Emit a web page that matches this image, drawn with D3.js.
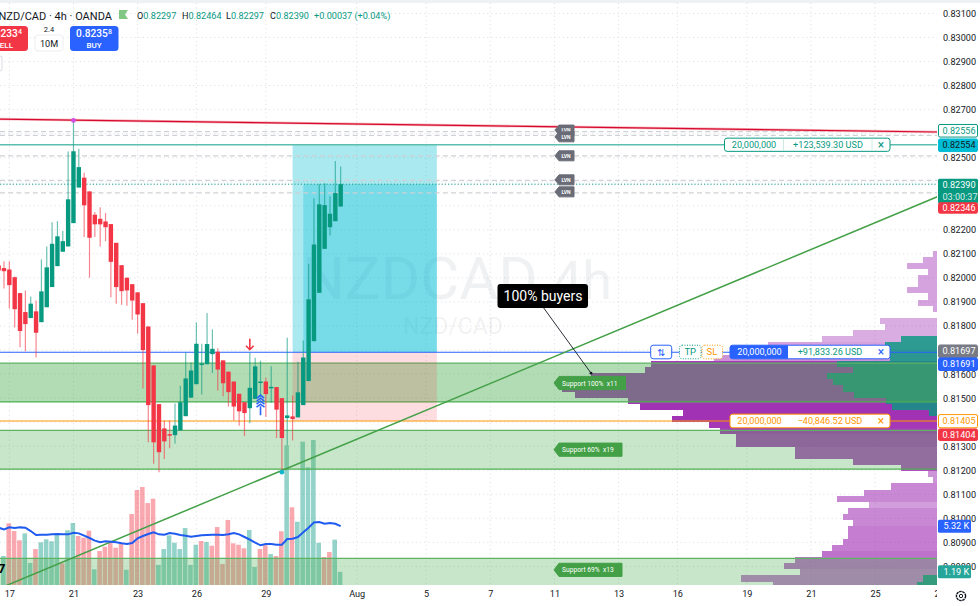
<!DOCTYPE html>
<html>
<head>
<meta charset="utf-8">
<title>NZD/CAD 4h</title>
<script src="https://d3js.org/d3.v7.min.js"></script>
<style>
  html, body { margin: 0; padding: 0; background: #fff; }
  svg { display: block; font-family: Roboto, "Liberation Sans", sans-serif; }
</style>
</head>
<body>
<svg id="chart" width="980" height="606"></svg>
<script>
// OHLC of each 4h bar, oldest first
const candleOpen = [0.82052,0.82041,0.82035,0.82003,0.81937,0.81858,0.81833,0.81861,0.81816,0.81878,0.81962,0.82049,0.82109,0.82131,0.82228,0.82376,0.82417,0.82360,0.82263,0.82246,0.82235,0.82224,0.82146,0.82053,0.82001,0.81974,0.81940,0.81895,0.81798,0.81636,0.81475,0.81374,0.81350,0.81346,0.81366,0.81425,0.81502,0.81558,0.81641,0.81641,0.81683,0.81693,0.81657,0.81610,0.81569,0.81518,0.81483,0.81458,0.81497,0.81566,0.81569,0.81542,0.81546,0.81500,0.81417,0.81424,0.81420,0.81471,0.81571,0.81737,0.81938,0.82121,0.82211,0.82236,0.82297];
const candleHigh = [0.82081,0.82069,0.82069,0.82006,0.81937,0.81948,0.81923,0.81906,0.82077,0.82131,0.82232,0.82236,0.82195,0.82526,0.82655,0.82537,0.82438,0.82360,0.82274,0.82294,0.82270,0.82224,0.82146,0.82053,0.82001,0.81974,0.81940,0.81895,0.81798,0.81636,0.81475,0.81407,0.81407,0.81478,0.81552,0.81690,0.81648,0.81815,0.81726,0.81854,0.81786,0.81707,0.81657,0.81610,0.81569,0.81518,0.81483,0.81689,0.81668,0.81656,0.81585,0.81633,0.81546,0.81500,0.81751,0.81511,0.81651,0.81740,0.82059,0.82331,0.82392,0.82394,0.82340,0.82486,0.82464];
const candleLow = [0.81969,0.81956,0.81873,0.81794,0.81712,0.81695,0.81833,0.81669,0.81816,0.81878,0.81962,0.82049,0.82109,0.82131,0.82228,0.82376,0.82170,0.82001,0.82170,0.82131,0.82153,0.81920,0.81893,0.81888,0.81884,0.81826,0.81768,0.81540,0.81316,0.81227,0.81192,0.81247,0.81292,0.81310,0.81366,0.81425,0.81502,0.81558,0.81515,0.81641,0.81604,0.81532,0.81508,0.81465,0.81407,0.81385,0.81342,0.81396,0.81497,0.81504,0.81421,0.81481,0.81334,0.81192,0.81303,0.81324,0.81420,0.81471,0.81571,0.81737,0.81938,0.82121,0.82177,0.82236,0.82297];
const candleClose = [0.82031,0.82028,0.81970,0.81870,0.81779,0.81808,0.81893,0.81772,0.81944,0.82044,0.82142,0.82173,0.82153,0.82327,0.82527,0.82461,0.82302,0.82167,0.82223,0.82223,0.82211,0.82067,0.81962,0.81945,0.81948,0.81906,0.81848,0.81700,0.81471,0.81316,0.81275,0.81320,0.81344,0.81386,0.81483,0.81582,0.81615,0.81726,0.81644,0.81725,0.81705,0.81619,0.81562,0.81525,0.81465,0.81445,0.81438,0.81543,0.81632,0.81569,0.81517,0.81547,0.81452,0.81334,0.81428,0.81413,0.81524,0.81669,0.81911,0.82139,0.82306,0.82303,0.82267,0.82353,0.82390];

// Volume in thousands for bars 1..64, its direction, and the moving average for bars 0..64
const volumeK = [2.62,5.58,4.88,4.04,4.67,1.99,3.25,3.86,4.13,3.95,4.52,1.96,4.95,5.61,4.43,4.28,4.91,1.42,3.07,3.46,3.92,3.37,3.71,1.38,6.42,8.59,8.86,7.41,7.80,1.81,3.25,4.49,3.82,3.25,5.15,1.81,3.64,3.98,3.89,3.55,5.24,1.90,5.88,3.77,3.64,3.32,4.97,1.63,3.25,3.59,2.80,2.62,4.86,12.63,7.03,5.72,12.96,10.64,13.11,3.82,2.53,2.98,4.10,1.19];
const volumeUp = [1,0,0,0,1,1,0,1,1,1,1,0,1,1,0,0,0,1,0,0,0,0,0,1,0,0,0,0,0,1,1,1,1,1,1,1,1,0,1,0,0,0,0,0,0,0,1,1,0,0,1,0,0,1,0,1,1,1,1,1,0,0,1,1];
const volumeMA = [5.18,5.03,5.21,5.15,5.21,5.18,4.88,4.52,4.55,4.55,4.58,4.61,4.58,4.58,4.73,4.67,4.46,4.25,4.01,3.86,3.95,3.92,3.86,3.77,3.71,3.80,4.22,4.43,4.61,4.76,4.58,4.55,4.70,4.64,4.52,4.46,4.37,4.43,4.49,4.52,4.55,4.55,4.52,4.58,4.70,4.58,4.34,4.10,3.83,3.59,3.71,3.71,3.65,3.65,4.16,4.19,4.34,4.76,5.18,5.66,5.69,5.54,5.60,5.54,5.32];

// Visible-range volume profile, one entry per price bin from the top bin down
const profileTopPrice = 0.82114;
const profileBinSize = 0.000255;
const profileTotal = [4,14,30,9,19,19,30,9,19,4,0,57,52,84,115,169,207,223,286,292,346,375,375,362,309,297,254,265,228,217,201,201,142,142,84,36,9,4,46,73,100,68,89,94,84,89,89,94,105,115,142,153,137,196,164];
const profileUp = [0,0,0,0,0,0,0,0,0,0,0,0,0,0,36,52,64,47,100,84,110,104,94,83,51,45,8,0,0,0,0,0,0,0,0,0,0,0,0,0,0,0,0,0,0,0,0,0,0,0,0,0,0,14,20];
const profileDensity = [.42,.42,.42,.42,.42,.42,.42,.42,.42,.42,0,.38,.38,.38,.38,.42,.5,.5,.92,.92,.92,.92,.92,.92,.92,.95,.95,.95,.92,.9,.85,.85,.8,.8,.8,.8,.5,.5,.55,.55,.55,.45,.55,.55,.55,.6,.6,.6,.6,.65,.65,.65,.6,.6,.6];

// Price levels: every grid level, and the ones whose label stays visible beside the tags
const priceTicks = [0.831,0.830,0.829,0.828,0.827,0.826,0.825,0.824,0.823,0.822,0.821,0.820,0.819,0.818,0.817,0.816,0.815,0.814,0.813,0.812,0.811,0.810,0.809,0.808];
const priceLabelTicks = [0.831,0.830,0.829,0.828,0.827,0.825,0.822,0.821,0.820,0.819,0.818,0.816,0.815,0.813,0.812,0.811,0.810,0.809,0.808];
const timeTickBars = [2,14,26,37,50,67,80,92,104,116,127,140,152,164,176];
const timeTickLabels = ["17","21","23","26","29","Aug","5","7","11","13","16","19","21","25","27"];
const supportTop = [0.81646,0.81366,0.80833];
const supportBottom = [0.81484,0.81205,0.80700];
const supportNames = ["Support 100%  x11","Support 60%  x19","Support 69%  x13"];
const lvnLevels = [0.82609,0.82593,0.82508,0.82406,0.82354];
const lvnTagLevels = [0.82615,0.82587,0.82508,0.82408,0.82358];
const resistanceBars = [0,176], resistancePrices = [0.82661,0.82607];
const trendBars = [0,176], trendPrices = [0.80707,0.82341];
const entryPrice = 0.81691, targetPrice = 0.82554, stopPrice = 0.81405, lastPrice = 0.82390;
const tradeStartBar = 55, tradeFillBar = 57, tradeEndBar = 82;

const W = 980, H = 606, plotRight = 937, plotBottom = 585;
const LABEL_SIZE = 9.1;
const svg = d3.select("#chart");

const x = d3.scaleLinear().domain([0, 176]).range([-1.344, 939.2]);
const y = d3.scaleLinear().domain([0.831, 0.808]).range([13.5, 566.4]);
const volumeY = d3.scaleLinear().domain([0, 20]).range([plotBottom, plotBottom - 221.2]);
const profileX = d3.scaleLinear().domain([0, 400]).range([plotRight, plotRight - 400]);

const UP = "#089981", DOWN = "#f23645", BLUE = "#2962ff", ORANGE = "#ff9800", PURPLE = "#9c27b0";

svg.append("rect").attr("width", W).attr("height", H).attr("fill", "#fff");
svg.append("rect").attr("width", W).attr("height", 3).attr("fill", "#f0f1f4");

svg.append("defs").append("clipPath").attr("id", "plot")
  .append("rect").attr("x", 0).attr("y", 3).attr("width", plotRight).attr("height", plotBottom - 3);
const plot = svg.append("g").attr("clip-path", "url(#plot)");

// Dotted grid
const grid = plot.append("g").attr("stroke", "#dfe2e8").attr("stroke-dasharray", "1.2 3").attr("stroke-width", 1);
grid.selectAll(".h").data(priceTicks).join("line").attr("x1", 0).attr("x2", plotRight).attr("y1", d => y(d)).attr("y2", d => y(d));
grid.selectAll(".v").data(timeTickBars).join("line").attr("x1", d => x(d)).attr("x2", d => x(d)).attr("y1", 3).attr("y2", plotBottom);

// Watermark
const mark = plot.append("g").attr("fill", "#787b86").attr("fill-opacity", 0.11);
mark.append("text").attr("x", 302).attr("y", 299).attr("font-size", 60).text("NZDCAD");
mark.append("text").attr("x", 552).attr("y", 299).attr("font-size", 54).text("4h");
mark.append("text").attr("x", 403).attr("y", 334).attr("font-size", 23).text("NZD/CAD");

// Volume bars
const bars = d3.range(1, 65);
plot.append("g").selectAll("rect").data(bars).join("rect")
  .attr("x", d => x(d) - 2.9).attr("width", 4.6)
  .attr("y", d => volumeY(volumeK[d - 1]))
  .attr("height", d => plotBottom - volumeY(volumeK[d - 1]))
  .attr("fill", d => volumeUp[d - 1] ? UP : DOWN).attr("fill-opacity", 0.43);

// Volume profile, anchored on the price scale; bin edges snap to whole pixels
const profileRows = plot.append("g").selectAll("g").data(profileTotal.map((t, i) => i)).join("g");
const binTop = i => Math.round(y(profileTopPrice - i * profileBinSize));
const binHeight = i => binTop(i + 1) - binTop(i);
profileRows.append("rect")
  .attr("x", i => profileX(profileTotal[i])).attr("y", binTop)
  .attr("width", i => plotRight - profileX(profileTotal[i])).attr("height", binHeight)
  .attr("fill", PURPLE).attr("fill-opacity", i => profileDensity[i]);
profileRows.append("rect")
  .attr("x", i => profileX(profileUp[i])).attr("y", binTop)
  .attr("width", i => plotRight - profileX(profileUp[i])).attr("height", binHeight)
  .attr("fill", UP).attr("fill-opacity", 0.82);

// Support zones
const zones = plot.append("g").selectAll("g").data(supportTop.map((t, i) => i)).join("g");
zones.append("rect").attr("x", 0).attr("width", plotRight)
  .attr("y", i => y(supportTop[i])).attr("height", i => y(supportBottom[i]) - y(supportTop[i]))
  .attr("fill", "#4caf50").attr("fill-opacity", i => i === 0 ? 0.43 : 0.31);
zones.append("line").attr("x1", 0).attr("x2", plotRight).attr("y1", i => y(supportTop[i])).attr("y2", i => y(supportTop[i]))
  .attr("stroke", "#5fb364").attr("stroke-width", 1.2);
zones.append("line").attr("x1", 0).attr("x2", plotRight).attr("y1", i => y(supportBottom[i])).attr("y2", i => y(supportBottom[i]))
  .attr("stroke", "#4caf50").attr("stroke-width", 1.2);

// Long position: target and stop areas
const trade = plot.append("g");
trade.append("rect").attr("x", x(tradeStartBar)).attr("width", x(tradeEndBar) - x(tradeStartBar))
  .attr("y", y(targetPrice)).attr("height", y(entryPrice) - y(targetPrice)).attr("fill", "#00bcd4").attr("fill-opacity", 0.33);
trade.append("rect").attr("x", x(tradeFillBar)).attr("width", x(tradeEndBar) - x(tradeFillBar))
  .attr("y", y(lastPrice)).attr("height", y(entryPrice) - y(lastPrice)).attr("fill", "#00bcd4").attr("fill-opacity", 0.3);
trade.append("rect").attr("x", x(tradeStartBar)).attr("width", x(tradeEndBar) - x(tradeStartBar))
  .attr("y", y(entryPrice)).attr("height", y(stopPrice) - y(entryPrice)).attr("fill", "#f23645").attr("fill-opacity", 0.17);

// Low-volume-node levels
plot.append("g").selectAll("line").data(lvnLevels).join("line")
  .attr("x1", 0).attr("x2", plotRight).attr("y1", d => y(d)).attr("y2", d => y(d))
  .attr("stroke", "#cfd1d5").attr("stroke-width", 1.2).attr("stroke-dasharray", "5 3.2");

// Horizontal position and price lines
const levels = plot.append("g");
levels.append("line").attr("x1", 0).attr("x2", plotRight).attr("y1", y(targetPrice)).attr("y2", y(targetPrice)).attr("stroke", "#5cbfad").attr("stroke-width", 1.4);
levels.append("line").attr("x1", 0).attr("x2", plotRight).attr("y1", y(entryPrice)).attr("y2", y(entryPrice)).attr("stroke", BLUE).attr("stroke-width", 1.1);
levels.append("line").attr("x1", 0).attr("x2", plotRight).attr("y1", y(stopPrice)).attr("y2", y(stopPrice)).attr("stroke", ORANGE).attr("stroke-width", 1.1);
levels.append("line").attr("x1", 0).attr("x2", plotRight).attr("y1", y(lastPrice)).attr("y2", y(lastPrice)).attr("stroke", UP).attr("stroke-dasharray", "1.2 2");

// Trend lines
const linePath = d3.line().x(d => x(d[0])).y(d => y(d[1]));
plot.append("path").attr("d", linePath(d3.zip(trendBars, trendPrices))).attr("fill", "none").attr("stroke", "#43a047").attr("stroke-width", 1.5);
plot.append("path").attr("d", linePath(d3.zip(resistanceBars, resistancePrices))).attr("fill", "none").attr("stroke", "#f7b7c0").attr("stroke-width", 2.6);
plot.append("path").attr("d", linePath(d3.zip(resistanceBars, resistancePrices))).attr("fill", "none").attr("stroke", "#d60a2c").attr("stroke-width", 1.2);

// Volume moving average
plot.append("path")
  .attr("d", d3.line().x((d, i) => x(i)).y(d => volumeY(d))(volumeMA))
  .attr("fill", "none").attr("stroke", "#1f5bf0").attr("stroke-width", 2);

// Candles
const candles = plot.append("g").selectAll("g").data(candleOpen.map((o, i) => i)).join("g");
const isUp = i => candleClose[i] >= candleOpen[i];
candles.append("line")
  .attr("x1", i => x(i)).attr("x2", i => x(i))
  .attr("y1", i => y(candleHigh[i])).attr("y2", i => y(candleLow[i]))
  .attr("stroke", i => isUp(i) ? UP : DOWN).attr("stroke-opacity", 0.6).attr("stroke-width", 1.2);
candles.append("rect")
  .attr("x", i => x(i) - 2.2).attr("width", 4.4)
  .attr("y", i => Math.min(y(candleOpen[i]), y(candleClose[i])))
  .attr("height", i => Math.max(1.5, Math.abs(y(candleOpen[i]) - y(candleClose[i]))))
  .attr("fill", i => isUp(i) ? UP : DOWN);

// Swing markers
plot.append("circle").attr("cx", x(14)).attr("cy", y(candleHigh[14])).attr("r", 2.4).attr("fill", "#d24de4");
plot.append("circle").attr("cx", x(53)).attr("cy", y(candleLow[53])).attr("r", 2.4).attr("fill", "#13b5cf");

// Signal arrows
plot.append("path").attr("transform", `translate(${x(47)},${y(0.81689) - 8})`)
  .attr("d", "M0,-6 V4 M-3.8,1 L0,5 L3.8,1").attr("fill", "none").attr("stroke", DOWN).attr("stroke-width", 1.6);
plot.append("path").attr("transform", `translate(${x(49)},${y(0.81504) + 3})`)
  .attr("d", "M-3.5,-2 L0,-5 L3.5,-2 M-3.8,1 L0,-2 L3.8,1 M-4,4 L0,1 L4,4 M-4,7 L0,4 L4,7 M0,6 V15").attr("fill", "none").attr("stroke", BLUE).attr("stroke-width", 1.6);

// LVN flags
const flags = plot.append("g").selectAll("g").data(lvnTagLevels).join("g")
  .attr("transform", d => `translate(555,${y(d)})`);
flags.append("path").attr("d", "M0,0 L4,-5 H19 V5 H4 Z").attr("fill", "#6a6d78").attr("stroke", "#6a6d78").attr("stroke-linejoin", "round").attr("stroke-width", 1);
flags.append("text").attr("x", 11).attr("y", 2).attr("text-anchor", "middle").attr("font-size", 5).attr("font-weight", 700).attr("fill", "#fff").text("LVN");

// Support flags
const centers = supportTop.map((t, i) => i === 2 ? y(0.8085) + 15.5 : y(t) + (y(supportBottom[i]) - y(t)) / 2 + (i === 0 ? 0.5 : 0));
const supportFlags = plot.append("g").selectAll("g").data(supportNames).join("g")
  .attr("transform", (d, i) => `translate(554,${centers[i]})`);
supportFlags.append("path").attr("d", (d, i) => `M0,0 L5,-6.6 H${i === 0 ? 71.5 : 68} V6.6 H5 Z`).attr("fill", "#43a047").attr("stroke", "#43a047").attr("stroke-linejoin", "round");
supportFlags.append("text").attr("x", 8).attr("y", 2.5).attr("font-size", 6.7).attr("fill", "#fff").style("white-space", "pre").text(d => d);

// Callout
const callout = plot.append("g");
callout.append("line").attr("x1", 543).attr("y1", 307).attr("x2", 591).attr("y2", y(0.81604)).attr("stroke", "#131722").attr("stroke-width", 0.9);
callout.append("circle").attr("cx", 591).attr("cy", y(0.81604)).attr("r", 1.4).attr("fill", "#131722");
callout.append("rect").attr("x", 497.5).attr("y", 284).attr("width", 90.5).attr("height", 24).attr("rx", 3).attr("fill", "#000");
callout.append("text").attr("x", 543).attr("y", 301).attr("text-anchor", "middle").attr("font-size", 14).attr("fill", "#fff").text("100% buyers");
plot.append("text").attr("x", -2).attr("y", 573).attr("font-size", 13).attr("font-weight", 700).attr("fill", "#000").text("7");

// Position boxes drawn on the right of the plot
const tpBox = plot.append("g").attr("transform", `translate(0,${y(targetPrice)})`);
tpBox.append("rect").attr("x", 724.5).attr("y", -6.6).attr("width", 165.5).attr("height", 13.2).attr("rx", 2.5).attr("fill", "#fff").attr("stroke", UP);
tpBox.append("line").attr("x1", 783.5).attr("x2", 783.5).attr("y1", -6).attr("y2", 6).attr("stroke", "#cde9e4");
tpBox.append("line").attr("x1", 872).attr("x2", 872).attr("y1", -6).attr("y2", 6).attr("stroke", "#cde9e4");
tpBox.append("text").attr("x", 754).attr("y", 3.2).attr("text-anchor", "middle").attr("font-size", LABEL_SIZE).attr("fill", UP).text("20,000,000");
tpBox.append("text").attr("x", 828).attr("y", 3.2).attr("text-anchor", "middle").attr("font-size", LABEL_SIZE).attr("fill", UP).text("+123,539.30 USD");
tpBox.append("text").attr("x", 881).attr("y", 4).attr("text-anchor", "middle").attr("font-size", 12).attr("fill", UP).text("×");

const entryBox = plot.append("g").attr("transform", `translate(0,${y(entryPrice)})`);
entryBox.append("rect").attr("x", 650.7).attr("y", -7).attr("width", 21).attr("height", 13.6).attr("rx", 2.5).attr("fill", "#fff").attr("stroke", BLUE);
entryBox.append("text").attr("x", 661).attr("y", 3.4).attr("text-anchor", "middle").attr("font-size", 9.5).attr("fill", BLUE).text("⇅");
entryBox.append("rect").attr("x", 679.5).attr("y", -7).attr("width", 21.5).attr("height", 13.6).attr("rx", 2.5).attr("fill", "#fff").attr("stroke", UP).attr("stroke-dasharray", "1 1.5");
entryBox.append("text").attr("x", 690.3).attr("y", 3.2).attr("text-anchor", "middle").attr("font-size", 9.5).attr("fill", UP).text("TP");
entryBox.append("rect").attr("x", 702).attr("y", -7).attr("width", 20.5).attr("height", 13.6).attr("rx", 2.5).attr("fill", "#fff").attr("stroke", ORANGE).attr("stroke-dasharray", "1 1.5");
entryBox.append("text").attr("x", 712).attr("y", 3.2).attr("text-anchor", "middle").attr("font-size", 9.5).attr("fill", ORANGE).text("SL");
entryBox.append("rect").attr("x", 730).attr("y", -7).attr("width", 160).attr("height", 13.6).attr("rx", 2.5).attr("fill", "#fff").attr("stroke", BLUE);
entryBox.append("path").attr("d", "M788,-7 H732.5 Q730,-7 730,-4.5 V4.1 Q730,6.6 732.5,6.6 H788 Z").attr("fill", BLUE);
entryBox.append("text").attr("x", 759.5).attr("y", 3.2).attr("text-anchor", "middle").attr("font-size", LABEL_SIZE).attr("fill", "#fff").text("20,000,000");
entryBox.append("text").attr("x", 830).attr("y", 3.2).attr("text-anchor", "middle").attr("font-size", LABEL_SIZE).attr("fill", UP).text("+91,833.26 USD");
entryBox.append("text").attr("x", 881).attr("y", 4).attr("text-anchor", "middle").attr("font-size", 12).attr("fill", BLUE).text("×");

const slBox = plot.append("g").attr("transform", `translate(0,${y(stopPrice)})`);
slBox.append("rect").attr("x", 730).attr("y", -6.8).attr("width", 160).attr("height", 13.6).attr("rx", 2.5).attr("fill", "#fff").attr("stroke", ORANGE);
slBox.append("text").attr("x", 759.5).attr("y", 3.2).attr("text-anchor", "middle").attr("font-size", LABEL_SIZE).attr("fill", ORANGE).text("20,000,000");
slBox.append("text").attr("x", 830).attr("y", 3.2).attr("text-anchor", "middle").attr("font-size", LABEL_SIZE).attr("fill", ORANGE).text("−40,846.52 USD");
slBox.append("text").attr("x", 881).attr("y", 4).attr("text-anchor", "middle").attr("font-size", 12).attr("fill", ORANGE).text("×");

// Price scale
const priceAxis = d3.axisRight(y).tickValues(priceLabelTicks).tickFormat(d3.format(".5f")).tickSize(0).tickPadding(6);
const priceAxisG = svg.append("g").attr("transform", `translate(${plotRight},0)`).call(priceAxis);
priceAxisG.select(".domain").remove();
priceAxisG.selectAll("text").attr("font-size", LABEL_SIZE).attr("font-family", "Roboto, sans-serif").attr("fill", "#131722");

// Time scale
const timeClip = svg.select("defs").append("clipPath").attr("id", "timeClip");
timeClip.append("rect").attr("x", 0).attr("y", plotBottom).attr("width", plotRight).attr("height", H - plotBottom);
const timeAxis = d3.axisBottom(x).tickValues(timeTickBars).tickFormat((d, i) => timeTickLabels[i]).tickSize(0).tickPadding(6);
const timeAxisG = svg.append("g").attr("clip-path", "url(#timeClip)").append("g").attr("transform", `translate(0,${plotBottom})`).call(timeAxis);
timeAxisG.select(".domain").remove();
timeAxisG.selectAll("text").attr("font-size", LABEL_SIZE).attr("font-family", "Roboto, sans-serif").attr("fill", "#131722");

// Price-scale tags
function tag(price, label, fill, stroke, textColor, offset, h) {
  const cy = y(price) + (offset || 0), ht = h || 12.6;
  svg.append("rect").attr("x", 938.5).attr("y", cy - ht / 2).attr("width", 39).attr("height", ht).attr("rx", 1.5).attr("fill", fill).attr("stroke", stroke);
  svg.append("text").attr("x", 942.5).attr("y", cy + 3.2).attr("font-size", LABEL_SIZE).attr("fill", textColor).text(label);
}
tag(0.82556, "0.82556", "#fff", UP, UP, -13.5);
tag(targetPrice, "0.82554", "#00bcd4", "#00bcd4", "#131722", 0.5);
svg.append("rect").attr("x", 938).attr("y", 178.7).attr("width", 40).attr("height", 24.6).attr("rx", 1.5).attr("fill", UP);
svg.append("text").attr("x", 942.5).attr("y", 188.4).attr("font-size", LABEL_SIZE).attr("fill", "#fff").text(d3.format(".5f")(lastPrice));
svg.append("text").attr("x", 942.5).attr("y", 199.6).attr("font-size", LABEL_SIZE).attr("fill", "#fff").attr("fill-opacity", 0.85).text("03:00:37");
tag(0.82346, "0.82346", "#f23645", "#f23645", "#fff", 13.2, 10.4);
tag(0.81697, "0.81697", "#787b86", "#787b86", "#fff", 0.5);
tag(entryPrice, "0.81691", BLUE, BLUE, "#fff", 12);
tag(0.81405, "0.81405", "#fff", ORANGE, ORANGE, 0.2, 13.2);
tag(0.81404, "0.81404", "#f23645", "#f23645", "#fff", 13.5, 11.5);

function volumeTag(value, label, fill) {
  const cy = volumeY(value);
  svg.append("rect").attr("x", 938).attr("y", cy - 6.5).attr("width", 33).attr("height", 13).attr("rx", 1.5).attr("fill", fill);
  svg.append("text").attr("x", 943.5).attr("y", cy + 3.2).attr("font-size", LABEL_SIZE).attr("fill", "#fff").text(label);
}
volumeTag(volumeMA[64], "5.32 K", BLUE);
volumeTag(volumeK[63], "1.19 K", "#26a69a");

// Settings cog in the corner
const cog = svg.append("g").attr("transform", "translate(961,596)").attr("fill", "none").attr("stroke", "#131722");
cog.append("circle").attr("r", 4.6).attr("stroke-width", 1.4).attr("stroke-dasharray", "2.6 0.6");
cog.append("circle").attr("r", 1.7).attr("stroke-width", 1);

// Instrument header
svg.append("text").attr("x", -1.5).attr("y", 19.5).attr("font-size", 11).attr("fill", "#131722").text("NZD/CAD · 4h · OANDA");
svg.append("path").attr("d", "M119,10 H128 L125,14.5 L128,19 H119 Z").attr("fill", "#81c784");
const ohlcX = [137, 182, 226, 270];
const ohlcNames = ["O", "H", "L", "C"];
const ohlcValues = [candleOpen[64], candleHigh[64], candleLow[64], candleClose[64]];
const ohlc = svg.append("g").attr("font-size", LABEL_SIZE);
ohlcNames.forEach((n, i) => {
  const t = ohlc.append("text").attr("x", ohlcX[i]).attr("y", 18.5);
  t.append("tspan").attr("fill", "#131722").text(n);
  t.append("tspan").attr("fill", UP).text(d3.format(".5f")(ohlcValues[i]));
});
ohlc.append("text").attr("x", 314).attr("y", 18.5).attr("fill", UP).text("+0.00037 (+0.04%)");

// Order buttons
const trading = svg.append("g");
trading.append("rect").attr("x", -20).attr("y", 26).attr("width", 48).attr("height", 25).attr("rx", 3.5).attr("fill", "#f23645");
const sellPrice = trading.append("text").attr("x", 4).attr("y", 37).attr("text-anchor", "middle").attr("font-size", 10.2).attr("font-weight", 500).attr("fill", "#fff");
sellPrice.append("tspan").text("0.8233");
sellPrice.append("tspan").attr("font-size", 7).attr("dy", -3).text("4");
trading.append("text").attr("x", 4).attr("y", 47.6).attr("text-anchor", "middle").attr("font-size", 8).attr("font-weight", 500).attr("fill", "#fff").text("SELL");
trading.append("text").attr("x", 49).attr("y", 32).attr("text-anchor", "middle").attr("font-size", 7.4).attr("fill", "#131722").text("2.4");
trading.append("rect").attr("x", 35).attr("y", 35).attr("width", 28).attr("height", 16).attr("rx", 3).attr("fill", "#fff").attr("stroke", "#eceef2");
trading.append("text").attr("x", 49).attr("y", 46.5).attr("text-anchor", "middle").attr("font-size", LABEL_SIZE).attr("fill", "#131722").text("10M");
trading.append("rect").attr("x", 70).attr("y", 26).attr("width", 48.5).attr("height", 25).attr("rx", 3.5).attr("fill", BLUE);
const buyPrice = trading.append("text").attr("x", 94).attr("y", 37).attr("text-anchor", "middle").attr("font-size", 10.2).attr("font-weight", 500).attr("fill", "#fff");
buyPrice.append("tspan").text("0.8235");
buyPrice.append("tspan").attr("font-size", 7).attr("dy", -3).text("8");
trading.append("text").attr("x", 94).attr("y", 47.6).attr("text-anchor", "middle").attr("font-size", 8).attr("font-weight", 500).attr("fill", "#fff").text("BUY");
trading.append("rect").attr("x", -6).attr("y", 56).attr("width", 8).attr("height", 15).attr("rx", 2).attr("fill", "#fff").attr("stroke", "#d9dbe0");
</script>
</body>
</html>
